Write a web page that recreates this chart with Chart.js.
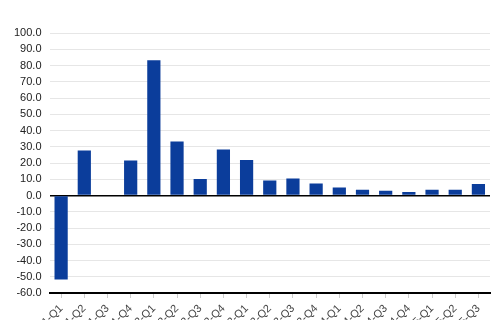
<!DOCTYPE html>
<html>
<head>
<meta charset="utf-8">
<script src="https://cdn.jsdelivr.net/npm/chart.js@4.4.0/dist/chart.umd.min.js"></script>
<style>
  html, body { margin: 0; padding: 0; background: #fff; overflow: hidden; }
  #wrap { width: 500px; height: 337px; }
</style>
</head>
<body>
<div id="wrap"><canvas id="myChart"></canvas></div>
<script>
// quarters shown on the x axis
const labels = [
    "2021-Q1", "2021-Q2", "2021-Q3", "2021-Q4",
    "2022-Q1", "2022-Q2", "2022-Q3", "2022-Q4",
    "2023-Q1", "2023-Q2", "2023-Q3", "2023-Q4",
    "2024-Q1", "2024-Q2", "2024-Q3", "2024-Q4",
    "2025-Q1", "2025-Q2", "2025-Q3",
];

// growth values (2021-Q3 has no bar)
const values = [-51.7, 27.7, null, 21.5, 83.3, 33.2, 10.2, 28.3, 21.8, 9.2, 10.4, 7.4, 5.0, 3.5, 2.9, 2.2, 3.5, 3.5, 7.1];

const yMin = -60;
const yMax = 100;
const yStep = 10;

const ctx = document.getElementById("myChart").getContext("2d");

const data = {
    labels,
    datasets: [
        {
            data: values,
            label: "Value",
            backgroundColor: "#0b3d9b",
            borderWidth: 0,
            categoryPercentage: 0.6,
            barPercentage: 0.95,
        },
    ],
};

const config = {
    type: "bar",
    data: data,
    options: {
        responsive: true,
        maintainAspectRatio: false,
        animation: false,
        layout: {
            padding: { top: 33, right: 10, left: 6, bottom: 0 }
        },
        plugins: {
            legend: { display: false },
            tooltip: { enabled: false }
        },
        scales: {
            y: {
                min: yMin,
                max: yMax,
                ticks: {
                    stepSize: yStep,
                    autoSkip: false,
                    color: "#222",
                    font: { family: "Liberation Sans", size: 11 },
                    padding: 8,
                    callback: function (value) {
                        return value.toFixed(1);
                    }
                },
                border: { display: false },
                grid: {
                    drawTicks: false,
                    color: (c) => c.tick && c.tick.value === 0 ? "#000" : "#e6e6e6",
                    lineWidth: (c) => c.tick && c.tick.value === 0 ? 1.5 : 1,
                }
            },
            x: {
                // fixed axis height so the rotated labels run off the bottom
                afterFit: (axis) => { axis.height = 44; },
                ticks: {
                    autoSkip: false,
                    minRotation: 45,
                    maxRotation: 45,
                    color: "#444",
                    font: { family: "Liberation Sans", size: 11 },
                    padding: 4,
                },
                border: { display: true, color: "#000", width: 2 },
                grid: {
                    offset: false,
                    drawOnChartArea: false,
                    tickLength: 5,
                    color: "#ccc",
                }
            }
        }
    },
};

const myChart = new Chart(ctx, config);
</script>
</body>
</html>
